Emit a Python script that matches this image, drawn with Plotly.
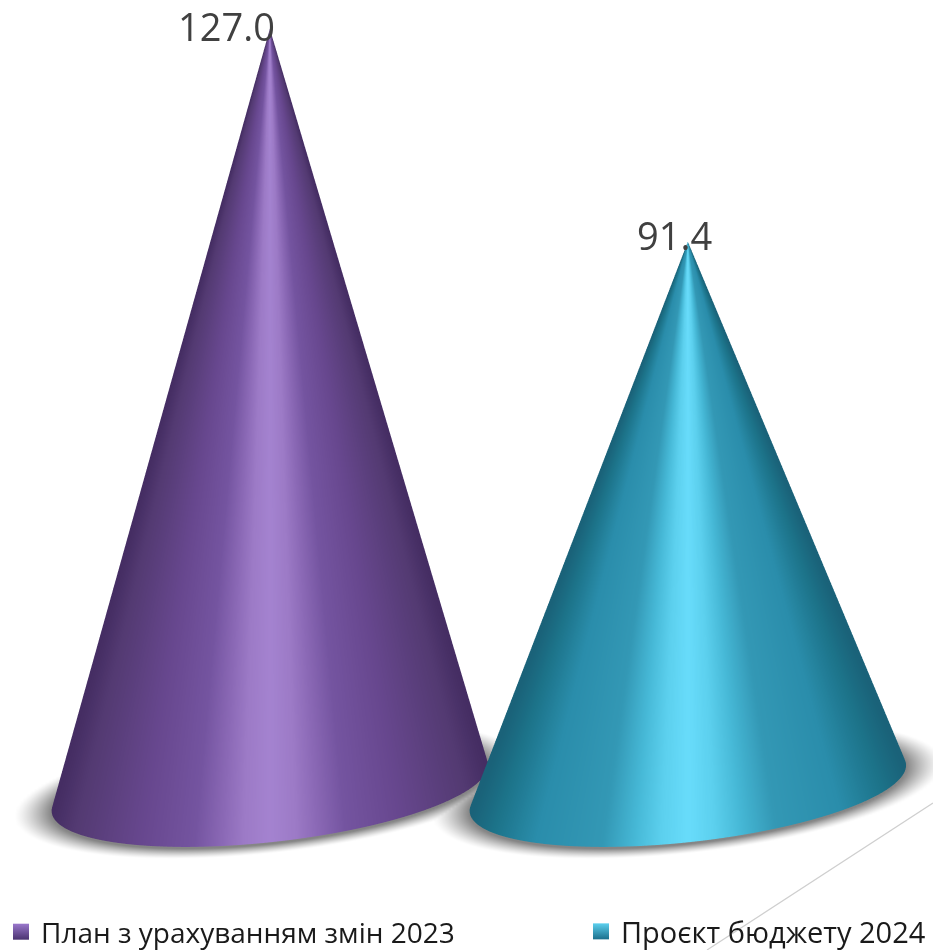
import numpy as np
import plotly.graph_objects as go

categories = ["План з урахуванням змін 2023", "Проєкт бюджету 2024"]
values = [127.0, 91.4]
swatch_colors = ["#4a3270", "#1b6f8c"]
swatch_tops = ["#9a78cc", "#5cd0ee"]
scales = [
    [[0, "#452d63"], [0.05, "#533a72"], [0.2, "#67478e"], [0.325, "#7454a0"], [0.39, "#8a68b5"], [0.44, "#9c7ac6"], [0.5, "#a483d0"],
     [0.56, "#9c7ac6"], [0.61, "#8a68b5"], [0.675, "#7454a0"], [0.8, "#67478e"], [0.95, "#533a72"], [1, "#452d63"]],
    [[0, "#1a6279"], [0.05, "#1c7389"], [0.15, "#2a8dab"], [0.3, "#3398b5"], [0.375, "#46b8d6"], [0.44, "#5cd0ee"], [0.5, "#68dcfb"],
     [0.56, "#5cd0ee"], [0.625, "#46b8d6"], [0.7, "#3398b5"], [0.85, "#2a8dab"], [0.95, "#1c7389"], [1, "#1a6279"]],
]
R = 0.522
SHEAR = 0.42  # the base ellipses lean: left side lower, right side higher
fig = go.Figure()

# soft ground shadow
gx = np.linspace(-0.8, 1.8, 300)
gy = np.linspace(-0.8, 0.8, 200)
GX, GY = np.meshgrid(gx, gy)
S = np.zeros_like(GX)
for i in range(len(values)):
    d = np.hypot(GX - i, GY - SHEAR * (GX - i)) / R
    S = np.maximum(S, np.clip((1.17 - d) / 0.17, 0, 1) ** 1.3)
fig.add_trace(go.Surface(x=GX, y=GY, z=np.full_like(GX, -0.3), surfacecolor=S, cmin=0, cmax=1,
                         colorscale=[[0, "#ffffff"], [1, "#858585"]], showscale=False, hoverinfo="skip",
                         lighting=dict(ambient=1, diffuse=0, specular=0, roughness=1, fresnel=0)))

theta = np.linspace(0, 2 * np.pi, 361)
t = np.linspace(0, 1, 40)
TH, T = np.meshgrid(theta, t)
for i, v in enumerate(values):
    r = R * (1 - T)
    dx = r * np.cos(TH)
    fig.add_trace(go.Surface(
        x=i + dx, y=r * np.sin(TH) + SHEAR * dx, z=T * v,
        surfacecolor=np.cos(TH), cmin=-1, cmax=1, colorscale=scales[i], showscale=False, hoverinfo="skip",
        lighting=dict(ambient=1, diffuse=0, specular=0, roughness=1, fresnel=0)))

legend_names = ["legend", "legend2"]
for name, c, top, lg in zip(categories, swatch_colors, swatch_tops, legend_names):
    fig.add_trace(go.Scatter(x=[None], y=[None], mode="markers", name=name, legend=lg,
                             marker=dict(symbol="square", size=16, color=top,
                                         gradient=dict(type="vertical", color=c))))

hidden = dict(visible=False, showgrid=False, zeroline=False, showbackground=False, showticklabels=False, title="")
legend_style = dict(orientation="h", y=-7 / 950, yanchor="bottom", xanchor="left", bgcolor="rgba(0,0,0,0)")
cx, cz = -0.026, -0.19
fig.update_layout(
    width=933, height=950, autosize=False, margin=dict(l=0, r=0, t=0, b=0, autoexpand=False),
    paper_bgcolor="white", plot_bgcolor="rgba(0,0,0,0)",
    xaxis=dict(visible=False), yaxis=dict(visible=False),
    showlegend=True,
    legend=dict(legend_style, x=1 / 933, font=dict(family="Open Sans", size=28, color="#1a1a1a")),
    legend2=dict(legend_style, x=581 / 933, font=dict(family="Open Sans", size=29, color="#1a1a1a")),
    scene=dict(
        domain=dict(x=[0, 1], y=[0, 1]),
        xaxis=dict(hidden, range=[-0.8, 1.8]),
        yaxis=dict(hidden, range=[-0.8, 0.8]),
        zaxis=dict(hidden, range=[-1, 135]),
        aspectmode="manual", aspectratio=dict(x=2.288, y=1.408, z=1.767),
        camera=dict(projection=dict(type="orthographic"), eye=dict(x=cx, y=-1.704, z=0.4376 + cz),
                    center=dict(x=cx, y=0, z=cz), up=dict(x=0, y=0, z=1)),
        annotations=[
            dict(x=i, y=0, z=v, text=f"{v:.1f}", showarrow=False, xshift=s[0], yshift=s[1],
                 font=dict(family="Open Sans", size=38, color="#404040"))
            for i, (v, s) in enumerate(zip(values, [(-43, 3), (-13, 7)]))
        ],
    ),
    shapes=[dict(type="line", xref="paper", yref="paper", x0=707 / 933, y0=0, x1=1, y1=(950 - 803) / 950,
                 line=dict(color="#cfcfcf", width=1.2))],
)
fig.write_html("out.html", config=dict(displayModeBar=False), post_script="document.body.style.margin='0';")
